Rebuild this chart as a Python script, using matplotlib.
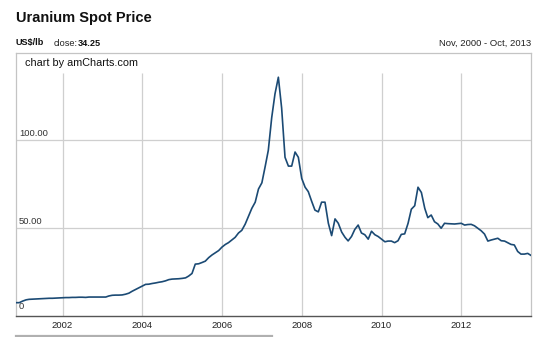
import matplotlib
matplotlib.use("Agg")
import matplotlib.pyplot as plt
import pandas as pd
from matplotlib.lines import Line2D

plt.rcParams['font.family'] = ['Liberation Sans', 'DejaVu Sans']

# monthly uranium spot price, US$/lb, Nov 2000 - Oct 2013
start_month = "2000-11-01"
prices = [
    7.4, 7.4,                                                            # 2000
    8.3, 9.0, 9.3, 9.4, 9.5, 9.6, 9.7, 9.8, 9.9, 9.9, 10.0, 10.1,         # 2001
    10.2, 10.3, 10.3, 10.4, 10.4, 10.5, 10.5, 10.4, 10.6, 10.6, 10.6, 10.6,  # 2002
    10.6, 10.6, 11.2, 11.6, 11.7, 11.7, 11.8, 12.2, 12.8, 13.9, 14.9, 15.9,  # 2003
    16.9, 17.8, 17.9, 18.3, 18.6, 19.0, 19.3, 19.8, 20.5, 20.8, 20.9, 21.0,  # 2004
    21.2, 21.5, 22.5, 24.0, 29.3, 29.5, 30.2, 31.0, 33.0, 34.5, 35.8, 37.0,  # 2005
    39.0, 40.5, 41.5, 43.0, 44.5, 47.0, 48.5, 52.0, 56.5, 61.0, 64.5, 72.0,  # 2006
    75.5, 85.0, 94.0, 112.5, 126.0, 135.5, 118.0, 90.0, 85.0, 85.0, 93.0, 90.0,  # 2007
    78.0, 73.0, 70.5, 65.0, 60.0, 59.0, 64.5, 64.5, 52.5, 45.5, 55.0, 52.5,  # 2008
    47.5, 44.5, 42.5, 45.0, 49.0, 51.5, 47.0, 46.0, 43.5, 48.0, 46.0, 45.0,  # 2009
    43.5, 42.0, 42.4, 42.4, 41.5, 42.6, 46.2, 46.5, 52.5, 60.5, 62.5, 73.0,  # 2010
    70.0, 61.0, 55.7, 57.2, 53.4, 52.1, 49.7, 52.5, 52.3, 52.2, 52.1, 52.3,  # 2011
    52.5, 51.5, 51.8, 51.9, 51.1, 49.7, 48.3, 46.4, 42.4, 43.0, 43.5, 44.0,  # 2012
    42.6, 42.4, 41.5, 40.5, 40.2, 36.5, 35.0, 35.0, 35.4, 34.25,           # 2013
]
dates = pd.date_range(start_month, periods=len(prices), freq="MS")
tick_years = [2002, 2004, 2006, 2008, 2010, 2012]
y_ticks = [0, 50, 100]
y_labels = ["0", "50.00", "100.00"]

W, H = 543, 337
fig = plt.figure(figsize=(W / 100, H / 100), dpi=100)

# plot box in pixel coordinates
left, right, top, bottom = 16, 531, 53, 315.7
ax = fig.add_axes([left / W, (H - bottom) / H, (right - left) / W, (bottom - top) / H])

ax.plot(dates, prices, color="#1b4a74", lw=1.2, zorder=3)

ax.set_xlim(dates[0], dates[-1])
ymax = (bottom - top) / 1.76
ax.set_ylim(0, ymax)

# horizontal grid + value labels sitting on the lines
for v, lab in zip(y_ticks, y_labels):
    if v > 0:
        ax.axhline(v, color="#cfcfcf", lw=0.9, zorder=1)
    ax.text(0.006, v + (2.5 if v == 0 else 1.2), lab, transform=ax.get_yaxis_transform(),
            fontsize=6.8, color="#333333", va="bottom", ha="left")

# vertical grid stops short of the box top, leaving room for the credit line
grid_top = (bottom - 73) / 1.76
xt = [pd.Timestamp(f"{y}-01-01") for y in tick_years]
ax.vlines(xt, 0, grid_top, color="#cfcfcf", lw=0.9, zorder=1)

ax.set_xticks(xt)
ax.set_xticklabels([str(y) for y in tick_years], fontsize=6.8, color="#222222")
ax.tick_params(axis="x", length=0, pad=3.5)
ax.set_yticks([])

for s in ("top", "left", "right"):
    ax.spines[s].set_color("#c4c4c4")
    ax.spines[s].set_linewidth(0.9)
ax.spines["bottom"].set_color("#555555")
ax.spines["bottom"].set_linewidth(1.0)

ax.text(9 / (right - left), 1 - 10 / (bottom - top), "chart by amCharts.com",
        transform=ax.transAxes, fontsize=7.8, color="#111111", va="center", ha="left")

# header
fig.text(left / W, 1 - 18 / H, "Uranium Spot Price", fontsize=10.5, fontweight="bold",
         color="#111111", va="center", ha="left")
unit = fig.text(left / W, 1 - 43 / H, "US$/lb", fontsize=6.6, fontweight="bold",
                color="#111111", va="center", ha="left")
close_lbl = fig.add_artist(plt.Annotation("close:", xy=(1, 0.5), xycoords=unit, xytext=(7, 0),
                                          textcoords="offset points", fontsize=6.6,
                                          color="#222222", va="center", ha="left"))
fig.add_artist(plt.Annotation(f"{prices[-1]:.2f}", xy=(1, 0.5), xycoords=close_lbl,
                              xytext=(0, 0), textcoords="offset points", fontsize=6.6,
                              fontweight="bold", color="#111111", va="center", ha="left"))
fig.text(right / W, 1 - 43 / H, "Nov, 2000 - Oct, 2013", fontsize=6.8,
         color="#222222", va="center", ha="right")

# scrollbar strip under the axis
fig.add_artist(Line2D([left / W, 272 / W], [1.0 / H, 1.0 / H], color="#b0b0b0", lw=1.6))

fig.savefig("out.png", dpi=100)
